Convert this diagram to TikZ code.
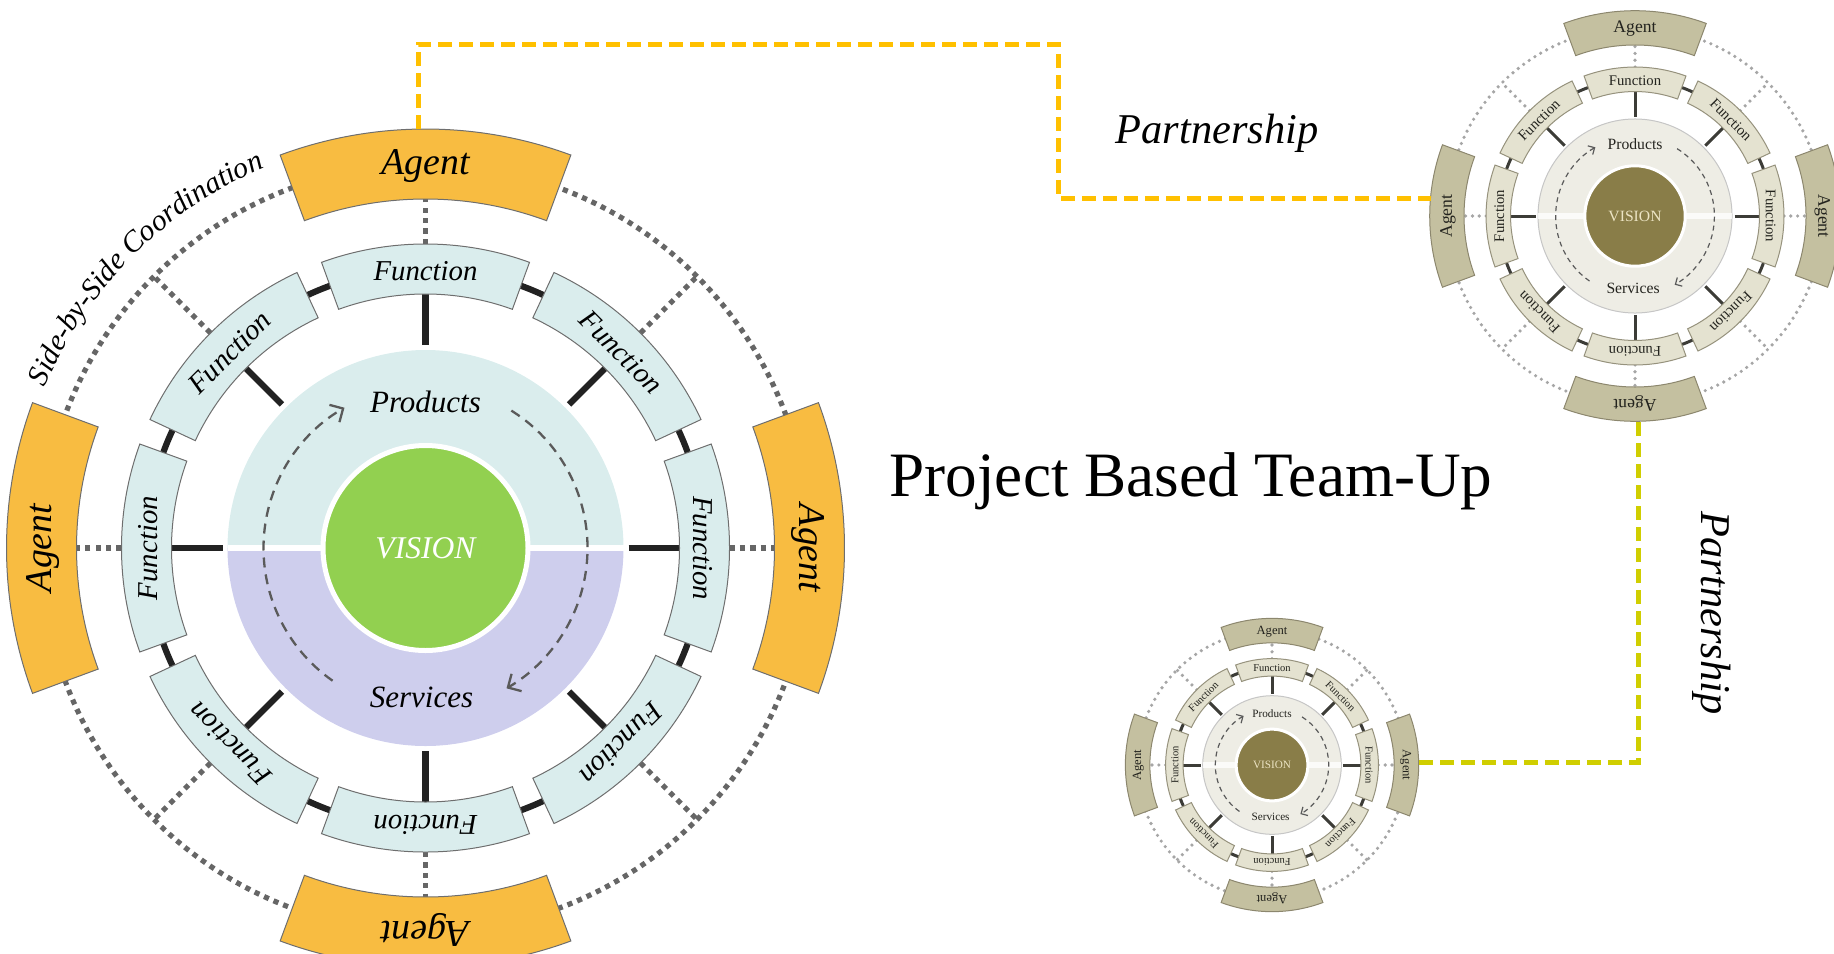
\documentclass[tikz,border=0pt]{standalone}
\usepackage{fontspec}
\setmainfont{Liberation Serif}
\usepackage{tikz}
\usetikzlibrary{arrows.meta,decorations.text}

\definecolor{agentorange}{RGB}{248,188,65}
\definecolor{functeal}{RGB}{218,237,237}
\definecolor{servlilac}{RGB}{206,206,237}
\definecolor{visiongreen}{RGB}{146,208,80}
\definecolor{dotgray}{RGB}{102,102,102}
\definecolor{spokeblack}{RGB}{34,34,34}
\definecolor{boxgray}{RGB}{110,110,110}
\definecolor{flowgray}{RGB}{90,90,90}
\definecolor{olive}{RGB}{137,125,72}
\definecolor{khaki}{RGB}{196,192,160}
\definecolor{sand}{RGB}{228,226,208}
\definecolor{paper}{RGB}{238,237,229}
\definecolor{partnergold}{RGB}{255,192,0}
\definecolor{partnerlime}{RGB}{208,206,0}

\newcommand{\sidefont}{\itshape\fontsize{14.9pt}{16pt}\selectfont}

\tikzset{
  dotring/.style={draw=dotgray, line width=2.6pt, dash pattern=on 2.6pt off 2.6pt},
  prodfill/.style={fill=functeal},
  servfill/.style={fill=servlilac},
  diskrim/.style={draw=none},
  split/.style={draw=white, line width=3pt},
  spoke/.style={draw=spokeblack, line width=3.1pt},
  funcbox/.style={fill=functeal, draw=boxgray, line width=0.5pt},
  agentbox/.style={fill=agentorange, draw=boxgray, line width=0.5pt},
  functext/.style={font=\itshape\fontsize{14.4pt}{16pt}\selectfont, inner sep=0pt},
  agenttext/.style={font=\itshape\fontsize{18.9pt}{21pt}\selectfont, inner sep=0pt},
  psnode/.style={font=\itshape\fontsize{15.5pt}{17pt}\selectfont, inner sep=0pt},
  visiondisk/.style={circle, fill=visiongreen, draw=white, line width=2.5pt, minimum size=102.5pt,
    inner sep=0pt, text=white, font=\itshape\fontsize{15.8pt}{17pt}\selectfont},
  flow/.style={draw=flowgray, line width=1.15pt, dash pattern=on 5pt off 3.5pt,
    -{Straight Barb[length=5pt,width=10pt]}},
  %look of the two small (older) wheels
  oldlook/.style={transform shape,
    dotring/.style={draw=gray!70, line width=1.8pt, line cap=round, dash pattern=on 0pt off 3.4pt},
    prodfill/.style={fill=paper},
    servfill/.style={fill=paper},
    diskrim/.style={draw=gray!45, line width=0.5pt},
    split/.style={draw=white, opacity=0.8, line width=3pt},
    spoke/.style={draw={rgb,255:red,60;green,60;blue,55}, line width=1.5pt},
    funcbox/.style={fill=sand, draw={rgb,255:red,150;green,146;blue,125}, line width=0.5pt},
    agentbox/.style={fill=khaki, draw={rgb,255:red,140;green,135;blue,110}, line width=0.5pt},
    functext/.style={font=\fontsize{15pt}{16pt}\selectfont, inner sep=0pt, text={rgb,255:red,35;green,35;blue,30}},
    agenttext/.style={font=\fontsize{18pt}{20pt}\selectfont, inner sep=0pt, text={rgb,255:red,35;green,35;blue,30}},
    psnode/.style={font=\fontsize{16pt}{18pt}\selectfont, inner sep=0pt, text={rgb,255:red,35;green,35;blue,30}},
    visiondisk/.style={circle, fill=olive, draw=white, line width=1.5pt, minimum size=102.5pt,
      inner sep=0pt, text={rgb,255:red,236;green,228;blue,196}, font=\fontsize{16pt}{17pt}\selectfont},
    flow/.style={draw=flowgray, line width=0.6pt, dash pattern=on 2.5pt off 2pt,
      -{Straight Barb[length=2.5pt,width=5pt]}}},
  partnerline/.style={line width=2.5pt, dash pattern=on 7pt off 3.5pt},
  titletext/.style={font=\fontsize{31.6pt}{36pt}\selectfont, inner sep=0pt},
  partnertext/.style={font=\itshape\fontsize{21.2pt}{24pt}\selectfont, inner sep=0pt}
}

% one team wheel: #1 centre, #2 look, #3 name prefix
\newcommand{\teamwheel}[3]{%
\begin{scope}[shift={#1}, #2]
  % dotted ring and dotted links
  \draw[dotring] (0,0) circle[radius=384];
  \foreach \a in {0,90,180,270} \draw[dotring] (\a:304) -- (\a:349);
  \foreach \a in {45,135,225,315} \draw[dotring] (\a:304) -- (\a:384);
  % products / services disk
  \fill[prodfill] (198,0) arc[start angle=0, end angle=180, radius=198] -- cycle;
  \fill[servfill] (-198,0) arc[start angle=180, end angle=360, radius=198] -- cycle;
  \draw[diskrim] (0,0) circle[radius=198];
  \draw[split] (-198,0) -- (198,0);
  % spokes and function ring
  \foreach \a in {0,45,...,315} \draw[spoke] (\a:203) -- (\a:256);
  \draw[spoke] (0,0) circle[radius=279];
  \foreach \a in {0,45,...,315} {
    \draw[funcbox] (\a-20:254) arc[start angle=\a-20, end angle=\a+20, radius=254]
      -- (\a+20:304) arc[start angle=\a+20, end angle=\a-20, radius=304] -- cycle;
    \node[functext, rotate=\a-90] (#3f\a) at (\a:277) {Function};
  }
  % agents
  \foreach \a in {0,90,180,270} {
    \draw[agentbox] (\a-20.3:349) arc[start angle=\a-20.3, end angle=\a+20.3, radius=349]
      -- (\a+20.3:419) arc[start angle=\a+20.3, end angle=\a-20.3, radius=419] -- cycle;
    \node[agenttext, rotate=\a-90] (#3a\a) at (\a:382) {Agent};
  }
  % vision and flow
  \node[visiondisk] (#3v) at (0,0) {VISION};
  \draw[flow] (235:162) arc[start angle=235, end angle=120, radius=162];
  \draw[flow] (58:162) arc[start angle=58, end angle=-60, radius=162];
  \node[psnode, anchor=base] (#3p) at (0,136) {Products};
  \node[psnode, anchor=base] (#3s) at (-4,-159) {Services};
\end{scope}}

\begin{document}
\begin{tikzpicture}[x=0.5pt,y=0.5pt]
  \useasboundingbox (0,0) rectangle (1834,-953);

  %Wheels
  \teamwheel{(425.5,-548)}{}{bw}
  \teamwheel{(1635,-216)}{scale=0.49, oldlook}{tw}
  \teamwheel{(1272,-765)}{scale=0.35, oldlook}{lw}

  % Text Node along the ring
  \path[decorate, decoration={text along path, text align=center,
      text={|\sidefont|Side-by-Side Coordination}}]
    (425.5,-548) ++(158:413) arc[start angle=158, end angle=112, radius=413];

  %Ports of the partnership lines
  \path (425.5,-548) ++(91:419) coordinate (bwport);
  \path (1635,-216) ++(175:205) coordinate (twwest);
  \path (1635,-216) ++(271:205) coordinate (twsouth);
  \path (1272,-765) ++(1:147) coordinate (lweast);
  \coordinate (bend) at (1058,-44);

  %Partnership lines
  \draw[partnerline, draw=partnergold] (bwport) |- (bend) |- (twwest);
  \draw[partnerline, draw=partnerlime] (lweast) -| (twsouth);

  % Text Node
  \node[partnertext, anchor=base] (partop) at (1217,-143) {Partnership};
  % Text Node
  \node[partnertext, rotate=-90] (parside) at (1712,-613) {Partnership};
  % Text Node
  \node[titletext, anchor=base] (title) at (1191,-496.5) {Project Based Team-Up};
\end{tikzpicture}
\end{document}
